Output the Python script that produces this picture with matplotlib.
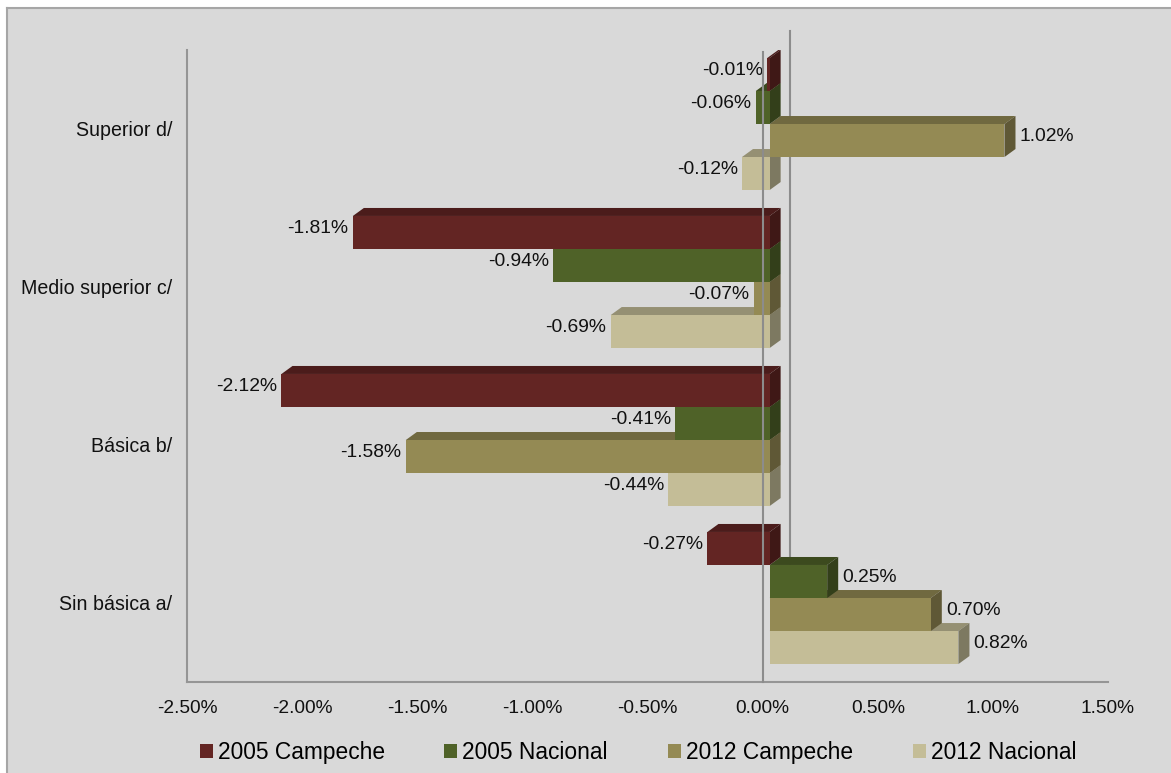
import matplotlib
matplotlib.use("Agg")
import matplotlib.pyplot as plt
from matplotlib.patches import Polygon, Rectangle, Patch
from matplotlib.lines import Line2D
import numpy as np

plt.rcParams["font.family"] = ["Liberation Sans", "DejaVu Sans"]

# --- data -------------------------------------------------------------
categories = ["Sin básica a/", "Básica b/", "Medio superior c/", "Superior d/"]
series_names = ["2005 Campeche", "2005 Nacional", "2012 Campeche", "2012 Nacional"]
campeche_2005 = [-0.27, -2.12, -1.81, -0.01]
nacional_2005 = [0.25, -0.41, -0.94, -0.06]
campeche_2012 = [0.70, -1.58, -0.07, 1.02]
nacional_2012 = [0.82, -0.44, -0.69, -0.12]
x_ticks = [-2.5, -2.0, -1.5, -1.0, -0.5, 0.0, 0.5, 1.0, 1.5]

series_values = [campeche_2005, nacional_2005, campeche_2012, nacional_2012]
front_colors = ["#632523", "#4F6228", "#948A54", "#C4BD97"]


def shade(hex_color, f):
    c = np.array(matplotlib.colors.to_rgb(hex_color)) * f
    return tuple(np.clip(c, 0, 1))


# --- figure -----------------------------------------------------------
W, H = 1171, 773
fig = plt.figure(figsize=(W / 100, H / 100), dpi=100, facecolor="white")

# chart-area panel with a thin grey frame on top and left
fig.patches.append(Rectangle((7 / W, 0), 1, 1 - 8 / H, transform=fig.transFigure,
                             facecolor="#d9d9d9", edgecolor="none", zorder=-10))
fig.lines.append(Line2D([7 / W, 1], [1 - 8 / H] * 2, transform=fig.transFigure,
                        color="#a6a6a6", lw=1.5, zorder=-9))
fig.lines.append(Line2D([7 / W] * 2, [0, 1 - 8 / H], transform=fig.transFigure,
                        color="#a6a6a6", lw=1.5, zorder=-9))

ax = fig.add_axes([187 / W, 1 - 682 / H, 921 / W, 632 / H])
ax.set_zorder(1)
ax.set_xlim(x_ticks[0], x_ticks[-1])
ax.set_ylim(-0.5, len(categories) - 0.5)
ax.patch.set_visible(False)

# pseudo-3D geometry (data units)
BAR_H = 0.209        # height of the front face of one bar
FRONT_DX = 0.0304    # front face offset from the front plane
FRONT_DY = 0.0316
DEPTH_DX = 0.0478    # bar depth projected on screen
DEPTH_DY = 0.0506
BACK_DX = 0.117      # back-wall offset
BACK_DY = 0.12

n_series = len(series_values)

# zero line on the back wall (behind the bars)
ax.plot([BACK_DX, BACK_DX], [-0.5 + 0.127, len(categories) - 0.5 + BACK_DY],
        color="#8c8c8c", lw=1.5, clip_on=False, zorder=0.5)

for ci in range(len(categories)):
    # lower bars first so the ones above cover their top faces
    for k in reversed(range(n_series)):
        v = series_values[k][ci]
        col = front_colors[k]
        yc = ci + FRONT_DY + (1.5 - k) * BAR_H
        yb, yt = yc - BAR_H / 2, yc + BAR_H / 2
        x0, x1 = FRONT_DX, FRONT_DX + v
        xl, xr = min(x0, x1), max(x0, x1)

        top = Polygon([(xl, yt), (xl + DEPTH_DX, yt + DEPTH_DY),
                       (xr + DEPTH_DX, yt + DEPTH_DY), (xr, yt)],
                      closed=True, facecolor=shade(col, 0.76), edgecolor="none", zorder=2)
        side = Polygon([(xr, yb), (xr, yt), (xr + DEPTH_DX, yt + DEPTH_DY),
                        (xr + DEPTH_DX, yb + DEPTH_DY)],
                       closed=True, facecolor=shade(col, 0.64), edgecolor="none", zorder=2)
        front = Rectangle((xl, yb), xr - xl, BAR_H, facecolor=col,
                          edgecolor="none", zorder=2)
        for p in (top, side, front):
            ax.add_patch(p)

        label = f"{v:.2f}%"
        ly = yc + DEPTH_DY / 2
        if v < 0:
            ax.annotate(label, (xl, ly), xytext=(-3, 0), textcoords="offset points",
                        ha="right", va="center", fontsize=13.9, color="#111111", zorder=5)
        else:
            ax.annotate(label, (xr + DEPTH_DX, ly), xytext=(3, 0), textcoords="offset points",
                        ha="left", va="center", fontsize=13.9, color="#111111", zorder=5)

# zero line on the front plane
ax.plot([0, 0], [-0.5, len(categories) - 0.5 - 0.013], color="#8c8c8c", lw=1.5,
        zorder=6, clip_on=False)

# axes styling
for s in ("top", "right"):
    ax.spines[s].set_visible(False)
for s in ("left", "bottom"):
    ax.spines[s].set_color("#959595")
    ax.spines[s].set_linewidth(1.5)

ax.set_xticks(x_ticks)
ax.set_xticklabels([f"{t:.2f}%" for t in x_ticks])
ax.set_yticks(range(len(categories)))
ax.set_yticklabels(categories)
ax.tick_params(axis="x", length=0, pad=13, labelsize=13.8, labelcolor="#111111")
ax.tick_params(axis="y", length=0, pad=10.5, labelsize=14.1, labelcolor="#111111")

# legend entries placed one by one along the bottom (top-aligned so baselines match)
legend_x = [200, 444, 668, 913]
for name, col, lx in zip(series_names, front_colors, legend_x):
    fig.legend([Patch(facecolor=col, edgecolor="none")], [name], loc="upper left",
               bbox_to_anchor=(lx / W, 1 - 741 / H), frameon=False, fontsize=16.4,
               handlelength=0.58, handleheight=0.58, handletextpad=0.2,
               borderpad=0, borderaxespad=0)

fig.savefig("out.png", dpi=100, facecolor=fig.get_facecolor())
